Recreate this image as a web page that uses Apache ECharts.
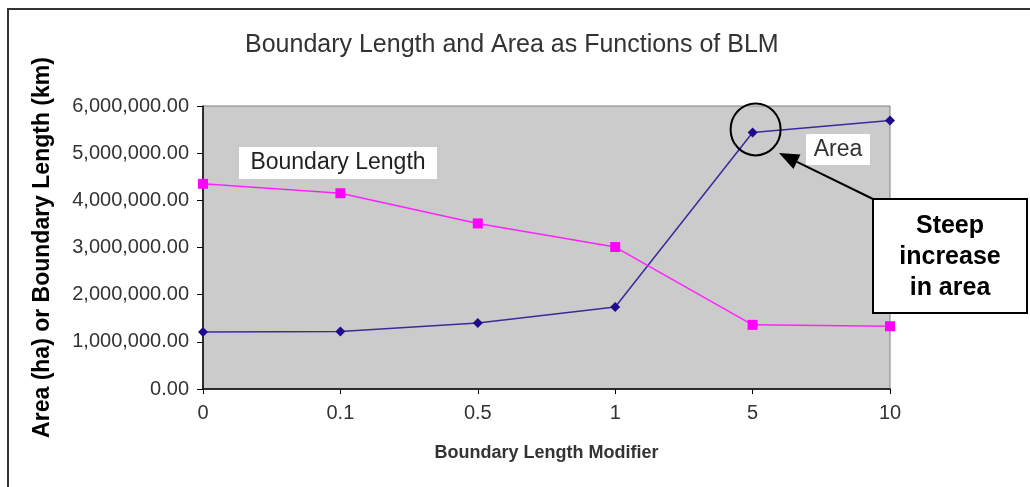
<!DOCTYPE html>
<html>
<head>
<meta charset="utf-8">
<script src="https://cdn.jsdelivr.net/npm/echarts@6/dist/echarts.min.js"></script>
<style>
html,body{margin:0;padding:0;background:#fff;}
#chart{width:1030px;height:487px;}
</style>
</head>
<body>
<div id="chart"></div>
<script>
const categories = ['0', '0.1', '0.5', '1', '5', '10'];
const boundaryLength = [4350000, 4150000, 3510000, 3010000, 1360000, 1330000];
const area = [1210000, 1220000, 1400000, 1740000, 5440000, 5690000];
const yTicks = [0, 1000000, 2000000, 3000000, 4000000, 5000000, 6000000];

const FONT = '"Liberation Sans", Arial, sans-serif';
const chart = echarts.init(document.getElementById('chart'), null, {renderer: 'canvas'});

function fmt(v) {
  return Number(v).toLocaleString('en-US', {minimumFractionDigits: 2, maximumFractionDigits: 2});
}

chart.setOption({
  animation: false,
  backgroundColor: '#ffffff',
  title: {
    text: 'Boundary Length and Area as Functions of BLM',
    left: 240, top: 28,
    textStyle: {fontFamily: FONT, fontSize: 25, fontWeight: 'normal', color: '#333'}
  },
  grid: {
    left: 203, right: 140, top: 106, bottom: 98,
    show: true, backgroundColor: '#cbcbcb', borderColor: '#808080', borderWidth: 1
  },
  xAxis: {
    type: 'category',
    data: categories,
    boundaryGap: false,
    name: 'Boundary Length Modifier',
    nameLocation: 'middle',
    nameGap: 55,
    nameTextStyle: {fontFamily: FONT, fontSize: 18, fontWeight: 'bold', color: '#333'},
    axisLine: {lineStyle: {color: '#000', width: 1.5}},
    axisTick: {show: true, inside: false, length: 5, alignWithLabel: true, lineStyle: {color: '#000'}},
    axisLabel: {fontFamily: FONT, fontSize: 20, color: '#333', margin: 14},
    splitLine: {show: false}
  },
  yAxis: {
    type: 'value',
    min: yTicks[0], max: yTicks[yTicks.length - 1], interval: yTicks[1] - yTicks[0],
    name: 'Area (ha) or Boundary Length (km)',
    nameLocation: 'middle',
    nameRotate: 90,
    nameGap: 149,
    nameTextStyle: {fontFamily: FONT, fontSize: 23, fontWeight: 'bold', color: '#000'},
    axisLine: {show: true, lineStyle: {color: '#000', width: 1.5}},
    axisTick: {show: true, length: 6, lineStyle: {color: '#000'}},
    axisLabel: {fontFamily: FONT, fontSize: 20, color: '#333', margin: 14, formatter: fmt},
    splitLine: {show: false}
  },
  series: [
    {
      name: 'Area', type: 'line', data: area,
      symbol: 'diamond', symbolSize: 10,
      lineStyle: {color: '#3a2a9c', width: 1.5},
      itemStyle: {color: '#220a8c'}
    },
    {
      name: 'Boundary Length', type: 'line', data: boundaryLength,
      symbol: 'rect', symbolSize: 10,
      lineStyle: {color: '#ff22ff', width: 1.5},
      itemStyle: {color: '#ff00ff'}
    }
  ]
});

// Annotations
const c = chart.convertToPixel({xAxisIndex: 0, yAxisIndex: 0}, [categories[4], area[4]]);
const tip = [779, 153], tail = [873, 199];
const ang = Math.atan2(tip[1] - tail[1], tip[0] - tail[0]);
const hl = 20, hw = 8;
const base = [tip[0] - hl * Math.cos(ang), tip[1] - hl * Math.sin(ang)];
const px = -Math.sin(ang), py = Math.cos(ang);

chart.setOption({
  graphic: [
    {type: 'rect', silent: true, shape: {x: 8, y: 9, width: 1100, height: 600},
     style: {fill: 'none', stroke: '#333', lineWidth: 2}},
    {type: 'rect', shape: {x: 239, y: 147, width: 198, height: 32}, style: {fill: '#fff'}, z: 10},
    {type: 'text', x: 338, y: 163, z: 11,
     style: {text: 'Boundary Length', fontFamily: FONT, fontSize: 23, fill: '#222', textAlign: 'center', textVerticalAlign: 'middle'}},
    {type: 'rect', shape: {x: 806, y: 134, width: 64, height: 31}, style: {fill: '#fff'}, z: 10},
    {type: 'text', x: 838, y: 150, z: 11,
     style: {text: 'Area', fontFamily: FONT, fontSize: 23, fill: '#333', textAlign: 'center', textVerticalAlign: 'middle'}},
    {type: 'ellipse', z: 12, shape: {cx: c[0] + 3, cy: c[1] - 3, rx: 25, ry: 26},
     style: {fill: 'none', stroke: '#000', lineWidth: 2}},
    {type: 'line', z: 12, shape: {x1: tail[0], y1: tail[1], x2: base[0], y2: base[1]},
     style: {stroke: '#000', lineWidth: 2}},
    {type: 'polygon', z: 12,
     shape: {points: [tip, [base[0] + px * hw, base[1] + py * hw], [base[0] - px * hw, base[1] - py * hw]]},
     style: {fill: '#000'}},
    {type: 'rect', z: 13, shape: {x: 873, y: 199, width: 154, height: 114},
     style: {fill: '#fff', stroke: '#000', lineWidth: 2}},
    {type: 'text', x: 950, y: 257, z: 14,
     style: {text: 'Steep\nincrease\nin area', fontFamily: FONT, fontSize: 25, fontWeight: 'bold', fill: '#000',
             textAlign: 'center', textVerticalAlign: 'middle', lineHeight: 31}}
  ]
});
</script>
</body>
</html>
